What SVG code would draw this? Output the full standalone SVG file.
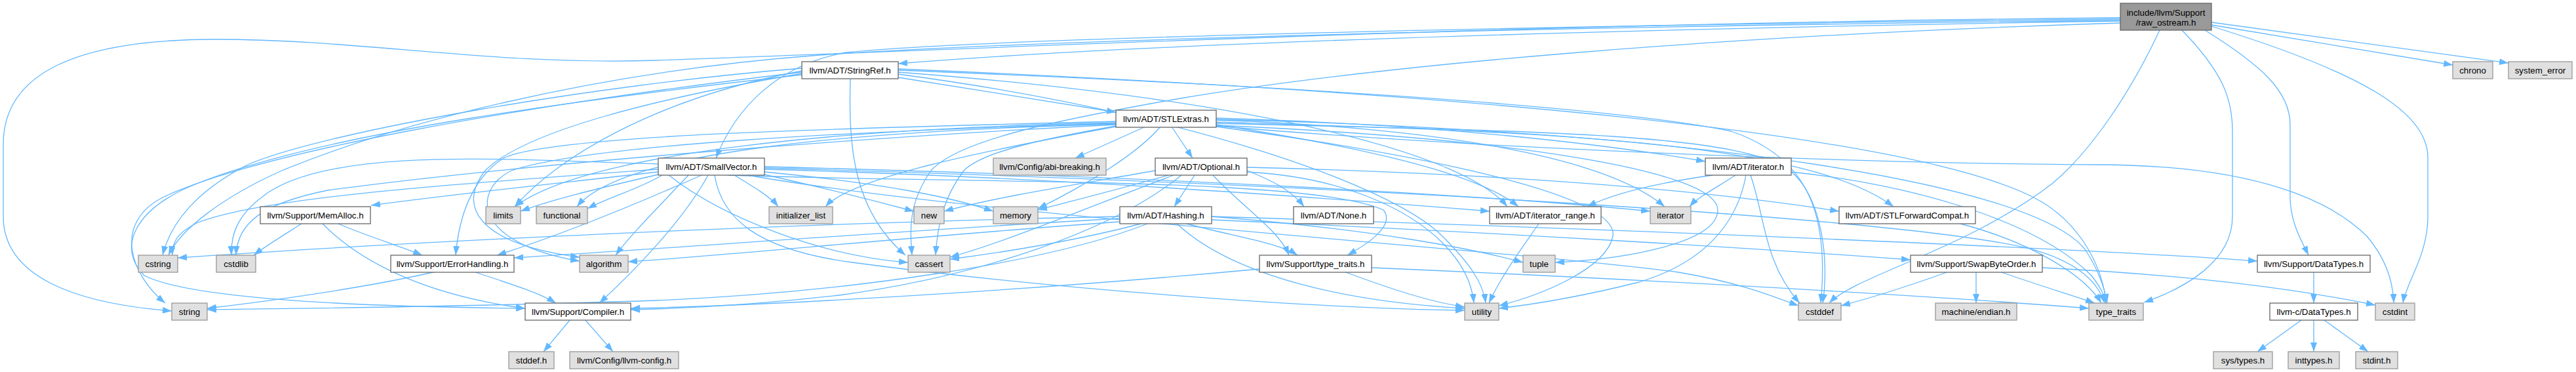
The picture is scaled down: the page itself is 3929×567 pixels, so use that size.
<svg xmlns="http://www.w3.org/2000/svg" width="3929" height="567" viewBox="0 0 3929 567">
<style>
.e{fill:none;stroke:#63b8ff;stroke-width:1.3;marker-end:url(#a)}
.n rect{fill:#ffffff;stroke:#666666;stroke-width:1.3}
.g rect{fill:#e0e0e0;stroke:#999999;stroke-width:1.3}
.m rect{fill:#999999;stroke:#666666;stroke-width:1.3}
text{font-family:"Liberation Sans",Arial,sans-serif;font-size:13.3px;fill:#000;text-anchor:middle}
</style>
<defs>
<marker id="a" markerUnits="userSpaceOnUse" markerWidth="14" markerHeight="10" refX="14" refY="5" orient="auto">
<path d="M0,0 L14,5 L0,10 z" fill="#63b8ff"/>
</marker>
</defs>
<rect width="3929" height="567" fill="#ffffff"/>
<g id="edges">
<path class="e" d="M3234,27 C2300,35 1500,75 1000,92 C750,100 550,60 330,60 C120,60 5,110 5,220 L5,330 C5,420 110,462 262,474"/>
<path class="e" d="M3234,32 C2600,42 1800,62 1370,97"/>
<path class="e" d="M3234,29 C2400,38 1500,58 1290,80 C1180,100 1120,170 1092,241"/>
<path class="e" d="M3363,46 C3450,100 3493,140 3493,190 L3493,300 C3493,340 3512,370 3521,389"/>
<path class="e" d="M3234,35 C2600,55 2100,100 1800,150 C1600,185 1460,215 1420,260 C1385,310 1388,350 1391,389"/>
<path class="e" d="M3373,38 L3741,99"/>
<path class="e" d="M3373,34 L3826,96"/>
<path class="e" d="M3294,46 C3250,140 3190,230 3130,280 C3000,380 2830,420 2790,462"/>
<path class="e" d="M3373,40 C3600,110 3703,170 3703,240 L3703,330 C3703,390 3670,430 3665,462"/>
<path class="e" d="M3234,31 C2400,40 1600,60 1250,84 C900,110 600,190 430,260 C340,300 275,350 257,389"/>
<path class="e" d="M3328,46 C3390,110 3405,150 3405,200 L3405,330 C3405,400 3330,440 3270,461"/>
<path class="e" d="M1370,118 L1702,171"/>
<path class="e" d="M1370,110 C1900,150 2230,230 2299,315"/>
<path class="e" d="M1223,114 C900,150 500,200 300,280 C200,320 180,380 220,420 C300,460 600,468 801,470"/>
<path class="e" d="M1223,112 C1000,150 800,200 740,260 C700,310 720,370 884,392"/>
<path class="e" d="M1297,119 C1294,220 1300,320 1381,389"/>
<path class="e" d="M1370,107 C1900,128 2450,160 2640,200 C2760,240 2790,330 2777,462"/>
<path class="e" d="M1223,104 C900,130 500,200 380,250 C300,290 260,340 248,389"/>
<path class="e" d="M1223,108 C1000,150 850,240 785,315"/>
<path class="e" d="M1223,110 C800,160 400,230 250,300 C170,340 200,420 252,462"/>
<path class="e" d="M1370,105 C2200,140 2900,200 3100,300 C3180,340 3210,420 3212,462"/>
<path class="e" d="M1370,113 C1800,170 2120,280 2200,360 C2240,400 2262,430 2266,462"/>
<path class="e" d="M1166,258 C1600,270 2000,300 2272,322"/>
<path class="e" d="M1080,267 C1040,340 960,420 914,462"/>
<path class="e" d="M1070,267 C950,320 850,360 758,389"/>
<path class="e" d="M1004,262 C800,285 700,295 566,313"/>
<path class="e" d="M1110,267 C1500,280 2000,270 2110,320 C2130,345 2080,375 2055,389"/>
<path class="e" d="M1050,267 C1000,320 960,360 939,389"/>
<path class="e" d="M1020,267 C1100,330 1250,390 1385,400"/>
<path class="e" d="M1140,267 C1500,330 2300,380 2560,415 C2650,430 2700,450 2743,466"/>
<path class="e" d="M1004,250 C800,245 500,220 400,300 C360,330 352,360 353,389"/>
<path class="e" d="M1004,258 C700,280 400,300 300,340 C270,355 262,370 263,389"/>
<path class="e" d="M1010,267 C970,290 930,300 896,318"/>
<path class="e" d="M1120,267 C1150,285 1175,300 1187,315"/>
<path class="e" d="M1166,254 C1800,270 2300,300 2517,322"/>
<path class="e" d="M1004,266 C900,290 840,305 794,322"/>
<path class="e" d="M1166,262 C1350,280 1450,300 1515,322"/>
<path class="e" d="M1166,266 C1250,285 1330,305 1394,322"/>
<path class="e" d="M1166,256 C2000,280 2900,330 3100,380 C3170,400 3200,430 3210,462"/>
<path class="e" d="M1090,267 C1100,330 1150,380 1300,400 C1600,440 2000,470 2234,473"/>
<path class="e" d="M1787,193 L1819,241"/>
<path class="e" d="M1855,186 C2300,200 2750,210 2888,315"/>
<path class="e" d="M1855,180 C2200,190 2450,220 2601,246"/>
<path class="e" d="M1855,190 C2050,220 2250,260 2316,315"/>
<path class="e" d="M1747,193 L1640,241"/>
<path class="e" d="M1702,185 C1300,195 850,205 770,240 C720,270 700,330 695,389"/>
<path class="e" d="M1702,188 C1300,200 900,220 780,260 C720,290 720,370 884,398"/>
<path class="e" d="M1702,192 C1600,210 1500,230 1470,260 C1440,300 1430,340 1427,389"/>
<path class="e" d="M1855,188 C2300,200 2650,200 2730,260 C2780,300 2790,400 2780,462"/>
<path class="e" d="M1855,192 C2300,230 2900,250 3200,251 C3450,252 3560,310 3610,360 C3640,395 3650,430 3651,462"/>
<path class="e" d="M1702,190 C1300,210 800,250 500,290 C400,310 362,340 360,389"/>
<path class="e" d="M1702,189 C1300,200 950,230 880,315"/>
<path class="e" d="M1702,193 C1500,230 1300,270 1259,315"/>
<path class="e" d="M1855,183 C2200,195 2450,240 2539,315"/>
<path class="e" d="M1702,187 C1300,195 900,230 785,315"/>
<path class="e" d="M1770,193 C1730,240 1640,290 1583,318"/>
<path class="e" d="M1855,191 C2300,210 2620,260 2620,320 C2620,370 2480,395 2372,400"/>
<path class="e" d="M1855,182 C2600,200 3100,280 3180,380 C3200,410 3210,440 3214,462"/>
<path class="e" d="M1855,193 C2200,240 2470,300 2460,360 C2450,410 2350,450 2286,466"/>
<path class="e" d="M1822,267 L1791,315"/>
<path class="e" d="M1902,260 C1940,275 1970,290 1989,315"/>
<path class="e" d="M1902,255 C2300,265 2600,290 2805,322"/>
<path class="e" d="M1802,267 C1700,350 1500,420 1280,450 C1150,465 1050,470 962,472"/>
<path class="e" d="M1850,267 C1900,320 1950,350 1966,389"/>
<path class="e" d="M1790,267 C1650,320 1530,370 1449,392"/>
<path class="e" d="M1782,267 C1700,290 1640,305 1583,320"/>
<path class="e" d="M1762,260 C1650,280 1520,300 1440,322"/>
<path class="e" d="M1902,262 C2050,270 2150,320 2200,370 C2230,400 2245,430 2248,462"/>
<path class="e" d="M1848,330 C2500,350 3200,380 3443,398"/>
<path class="e" d="M1708,333 C1400,350 1000,380 784,393"/>
<path class="e" d="M1848,335 C2300,355 2700,380 2914,396"/>
<path class="e" d="M1810,341 C1880,360 1950,370 1979,389"/>
<path class="e" d="M1708,338 C1400,360 1100,390 958,399"/>
<path class="e" d="M1740,341 C1650,365 1530,385 1449,395"/>
<path class="e" d="M1708,330 C1200,340 600,370 271,393"/>
<path class="e" d="M1750,341 C1600,400 1300,445 1000,458 C700,468 450,470 316,472"/>
<path class="e" d="M1848,330 C2100,350 2250,380 2323,400"/>
<path class="e" d="M1795,341 C1880,420 2050,460 2234,470"/>
<path class="e" d="M2990,341 C3100,370 3180,420 3205,462"/>
<path class="e" d="M2612,267 C2520,280 2460,295 2421,315"/>
<path class="e" d="M2647,267 C2620,285 2590,300 2577,315"/>
<path class="e" d="M2670,267 C2692,330 2690,400 2745,462"/>
<path class="e" d="M2732,262 C2900,280 3100,330 3190,420 C3205,440 3210,450 3212,462"/>
<path class="e" d="M2663,267 C2650,340 2600,400 2500,430 C2400,455 2330,465 2286,470"/>
<path class="e" d="M2347,341 C2320,380 2290,420 2271,462"/>
<path class="e" d="M722,414 C770,430 820,445 848,462"/>
<path class="e" d="M665,414 C550,440 400,460 316,470"/>
<path class="e" d="M869,488 L829,536"/>
<path class="e" d="M893,488 L935,536"/>
<path class="e" d="M1921,410 C1600,440 1200,465 962,470"/>
<path class="e" d="M2092,408 C2600,430 3000,455 3186,470"/>
<path class="e" d="M2050,414 C2120,440 2180,460 2234,468"/>
<path class="e" d="M2972,414 C2900,440 2850,455 2808,466"/>
<path class="e" d="M3014,414 L3014,462"/>
<path class="e" d="M3050,414 C3110,435 3160,450 3195,462"/>
<path class="e" d="M3115,408 C3350,420 3500,440 3623,465"/>
<path class="e" d="M3529,414 L3529,462"/>
<path class="e" d="M3510,488 L3443,536"/>
<path class="e" d="M3529,488 L3529,536"/>
<path class="e" d="M3545,488 L3612,536"/>
<path class="e" d="M492,341 C550,400 650,450 801,470"/>
<path class="e" d="M516,341 C560,360 610,375 644,389"/>
<path class="e" d="M460,341 C430,360 405,375 387,389"/>
</g>
<g id="n_raw_ostream" class="m"><rect x="3234" y="5" width="139" height="41"/><text x="3303.5" y="23.5">include/llvm/Support</text><text x="3303.5" y="38.5">/raw_ostream.h</text></g>
<g id="n_StringRef" class="n"><rect x="1223" y="94" width="147" height="26"/><text x="1296.5" y="111.5">llvm/ADT/StringRef.h</text></g>
<g id="n_chrono" class="g"><rect x="3741" y="94" width="61" height="26"/><text x="3771.5" y="111.5">chrono</text></g>
<g id="n_system_error" class="g"><rect x="3826" y="94" width="97" height="26"/><text x="3874.5" y="111.5">system_error</text></g>
<g id="n_STLExtras" class="n"><rect x="1702" y="168" width="153" height="26"/><text x="1778.5" y="185.5">llvm/ADT/STLExtras.h</text></g>
<g id="n_SmallVector" class="n"><rect x="1004" y="241" width="162" height="26"/><text x="1085" y="258.5">llvm/ADT/SmallVector.h</text></g>
<g id="n_abi_breaking" class="g"><rect x="1515" y="241" width="172" height="26"/><text x="1601" y="258.5">llvm/Config/abi-breaking.h</text></g>
<g id="n_Optional" class="n"><rect x="1762" y="241" width="140" height="26"/><text x="1832" y="258.5">llvm/ADT/Optional.h</text></g>
<g id="n_iterator_h" class="n"><rect x="2601" y="241" width="131" height="26"/><text x="2666.5" y="258.5">llvm/ADT/iterator.h</text></g>
<g id="n_MemAlloc" class="n"><rect x="397" y="315" width="168" height="26"/><text x="481" y="332.5">llvm/Support/MemAlloc.h</text></g>
<g id="n_limits" class="g"><rect x="741" y="315" width="53" height="26"/><text x="767.5" y="332.5">limits</text></g>
<g id="n_functional" class="g"><rect x="818" y="315" width="78" height="26"/><text x="857" y="332.5">functional</text></g>
<g id="n_initializer_list" class="g"><rect x="1173" y="315" width="97" height="26"/><text x="1221.5" y="332.5">initializer_list</text></g>
<g id="n_new" class="g"><rect x="1394" y="315" width="46" height="26"/><text x="1417" y="332.5">new</text></g>
<g id="n_memory" class="g"><rect x="1515" y="315" width="68" height="26"/><text x="1549" y="332.5">memory</text></g>
<g id="n_Hashing" class="n"><rect x="1708" y="315" width="140" height="26"/><text x="1778" y="332.5">llvm/ADT/Hashing.h</text></g>
<g id="n_None" class="n"><rect x="1973" y="315" width="122" height="26"/><text x="2034" y="332.5">llvm/ADT/None.h</text></g>
<g id="n_iterator_range" class="n"><rect x="2272" y="315" width="170" height="26"/><text x="2357" y="332.5">llvm/ADT/iterator_range.h</text></g>
<g id="n_iterator" class="g"><rect x="2517" y="315" width="62" height="26"/><text x="2548" y="332.5">iterator</text></g>
<g id="n_STLForwardCompat" class="n"><rect x="2805" y="315" width="208" height="26"/><text x="2909" y="332.5">llvm/ADT/STLForwardCompat.h</text></g>
<g id="n_cstring" class="g"><rect x="211" y="389" width="60" height="26"/><text x="241" y="406.5">cstring</text></g>
<g id="n_cstdlib" class="g"><rect x="330" y="389" width="60" height="26"/><text x="360" y="406.5">cstdlib</text></g>
<g id="n_ErrorHandling" class="n"><rect x="596" y="389" width="188" height="26"/><text x="690" y="406.5">llvm/Support/ErrorHandling.h</text></g>
<g id="n_algorithm" class="g"><rect x="884" y="389" width="74" height="26"/><text x="921" y="406.5">algorithm</text></g>
<g id="n_cassert" class="g"><rect x="1385" y="389" width="64" height="26"/><text x="1417" y="406.5">cassert</text></g>
<g id="n_type_traits_h" class="n"><rect x="1921" y="389" width="171" height="26"/><text x="2006.5" y="406.5">llvm/Support/type_traits.h</text></g>
<g id="n_tuple" class="g"><rect x="2323" y="389" width="49" height="26"/><text x="2347.5" y="406.5">tuple</text></g>
<g id="n_SwapByteOrder" class="n"><rect x="2914" y="389" width="201" height="26"/><text x="3014.5" y="406.5">llvm/Support/SwapByteOrder.h</text></g>
<g id="n_DataTypes" class="n"><rect x="3443" y="389" width="172" height="26"/><text x="3529" y="406.5">llvm/Support/DataTypes.h</text></g>
<g id="n_string" class="g"><rect x="262" y="462" width="54" height="26"/><text x="289" y="479.5">string</text></g>
<g id="n_Compiler" class="n"><rect x="801" y="462" width="161" height="26"/><text x="881.5" y="479.5">llvm/Support/Compiler.h</text></g>
<g id="n_utility" class="g"><rect x="2234" y="462" width="52" height="26"/><text x="2260" y="479.5">utility</text></g>
<g id="n_cstddef" class="g"><rect x="2743" y="462" width="65" height="26"/><text x="2775.5" y="479.5">cstddef</text></g>
<g id="n_endian" class="g"><rect x="2952" y="462" width="124" height="26"/><text x="3014" y="479.5">machine/endian.h</text></g>
<g id="n_type_traits" class="g"><rect x="3186" y="462" width="83" height="26"/><text x="3227.5" y="479.5">type_traits</text></g>
<g id="n_c_DataTypes" class="n"><rect x="3462" y="462" width="134" height="26"/><text x="3529" y="479.5">llvm-c/DataTypes.h</text></g>
<g id="n_cstdint" class="g"><rect x="3623" y="462" width="60" height="26"/><text x="3653" y="479.5">cstdint</text></g>
<g id="n_stddef" class="g"><rect x="776" y="536" width="69" height="26"/><text x="810.5" y="553.5">stddef.h</text></g>
<g id="n_llvm_config" class="g"><rect x="869" y="536" width="166" height="26"/><text x="952" y="553.5">llvm/Config/llvm-config.h</text></g>
<g id="n_sys_types" class="g"><rect x="3376" y="536" width="90" height="26"/><text x="3421" y="553.5">sys/types.h</text></g>
<g id="n_inttypes" class="g"><rect x="3490" y="536" width="78" height="26"/><text x="3529" y="553.5">inttypes.h</text></g>
<g id="n_stdint" class="g"><rect x="3593" y="536" width="64" height="26"/><text x="3625" y="553.5">stdint.h</text></g>
</svg>
